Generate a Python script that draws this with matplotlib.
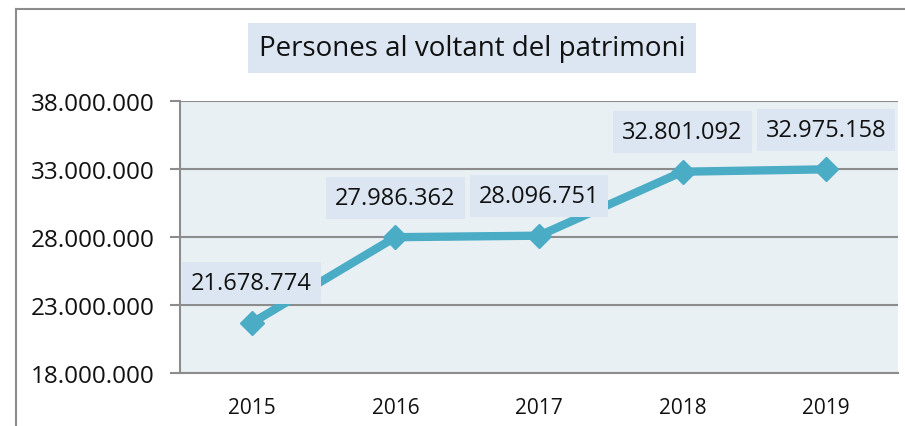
import matplotlib.pyplot as plt
from matplotlib.lines import Line2D
from matplotlib.ticker import FuncFormatter

plt.rcParams['font.family'] = ['Open Sans', 'DejaVu Sans']

# dades
anys = ['2015', '2016', '2017', '2018', '2019']
persones = [21678774, 27986362, 28096751, 32801092, 32975158]
titol = 'Persones al voltant del patrimoni'

linia = '#4bacc6'
caixa = '#dce6f2'
fons = '#e9f0f4'
gris = '#8c8c8c'


def punts(v, pos=None):
    return f'{int(v):,}'.replace(',', '.')


fig = plt.figure(figsize=(9.05, 4.27), dpi=100)
ax = fig.add_axes([180 / 905, 53 / 427, 718 / 905, 272 / 427])
ax.set_facecolor(fons)

x = list(range(len(anys)))
ax.plot(x, persones, color=linia, lw=6, marker='D', markersize=12,
        markeredgewidth=1, markeredgecolor=linia, solid_joinstyle='miter', zorder=3)

for xi, v in zip(x, persones):
    ax.annotate(punts(v), (xi, v), xytext=(0, 28.5), textcoords='offset points',
                ha='center', va='center', fontsize=17, color='#111111',
                bbox=dict(boxstyle='square,pad=0.38', fc=caixa, ec='none'), zorder=4)

ax.set_xlim(-0.5, len(anys) - 0.5)
ax.set_ylim(18000000, 38000000)
ax.set_yticks(range(18000000, 38000001, 5000000))
ax.yaxis.set_major_formatter(FuncFormatter(punts))
ax.set_xticks(x)
ax.set_xticklabels(anys)

ax.grid(axis='y', color=gris, lw=1.5)
ax.set_axisbelow(True)
for s in ['top', 'right']:
    ax.spines[s].set_visible(False)
ax.spines['left'].set_color(gris)
ax.spines['bottom'].set_color(gris)
ax.spines['left'].set_linewidth(1.5)
ax.spines['bottom'].set_linewidth(1.5)
ax.tick_params(axis='y', length=7, width=1.5, color=gris, pad=11, labelsize=17.5,
               labelcolor='#111111')
ax.tick_params(axis='x', length=0, pad=17, labelsize=15, labelcolor='#111111')

# marc exterior del grafic
fig.add_artist(Line2D([16 / 905, 16 / 905], [0, 1 - 10 / 427], color=gris, lw=1.5))
fig.add_artist(Line2D([16 / 905, 1], [1 - 10 / 427, 1 - 10 / 427], color=gris, lw=1.5))

fig.text(472 / 905, 1 - 49 / 427, titol, ha='center', va='center', fontsize=20,
         color='#111111', bbox=dict(boxstyle='square,pad=0.38', fc=caixa, ec='none'))

fig.savefig('out.png', dpi=100)
